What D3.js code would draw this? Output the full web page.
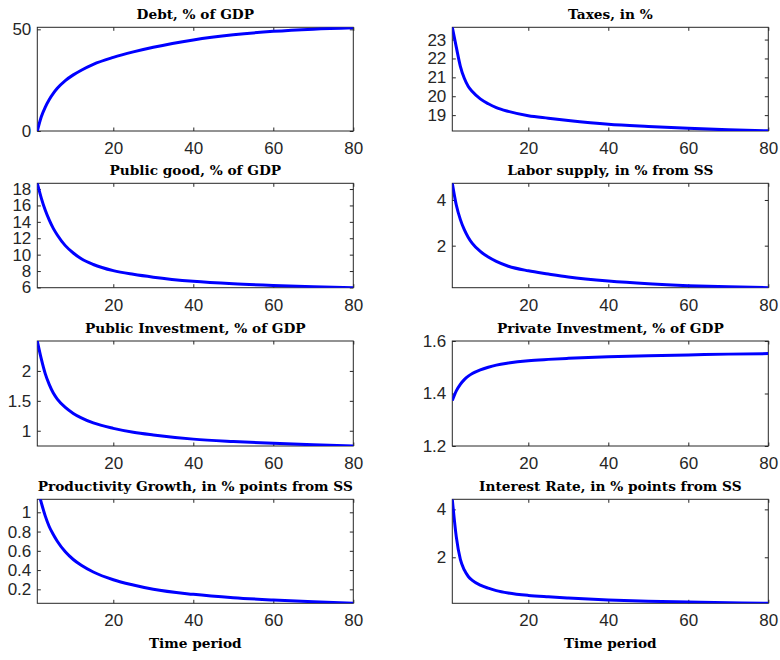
<!DOCTYPE html>
<html><head><meta charset="utf-8">
<script src="https://cdn.jsdelivr.net/npm/d3@7/dist/d3.min.js"></script>
<style>
body{margin:0;background:#fff;}
svg{display:block;}
.tick text{font-family:"Liberation Sans",Arial,Helvetica,sans-serif;font-size:17px;fill:#262626;}
.ttl{font-family:"DejaVu Serif","Liberation Serif",serif;font-weight:bold;font-size:13.7px;fill:#000;}
</style></head>
<body>
<script>
const periods = [1,2,3,4,5,6,8,10,12,15,20,25,30,40,50,60,70,80];

// Series values
const debt       = [0,7,11.8,15.5,18.5,21,24.8,27.6,29.9,32.8,36.2,38.9,41.2,44.8,47.3,49.0,50.1,50.8];
const taxes      = [23.65,22.6,21.6,20.95,20.52,20.25,19.86,19.6,19.4,19.2,18.97,18.84,18.72,18.52,18.4,18.3,18.22,18.17];
const publicGood = [18.7,16.9,15.4,14.2,13.2,12.4,11.1,10.2,9.5,8.8,8.05,7.6,7.25,6.75,6.45,6.25,6.1,5.97];
const labor      = [4.73,3.78,3.15,2.7,2.36,2.1,1.75,1.5,1.31,1.1,0.9,0.76,0.63,0.45,0.33,0.25,0.2,0.16];
const publicInv  = [2.5,2.2,1.95,1.77,1.63,1.53,1.39,1.29,1.215,1.13,1.04,0.975,0.93,0.86,0.82,0.79,0.765,0.745];
const privateInv = [1.373,1.41,1.435,1.453,1.466,1.476,1.49,1.5,1.508,1.516,1.525,1.53,1.534,1.54,1.544,1.547,1.55,1.552];
const prodGrowth = [1.25,1.1,0.96,0.85,0.77,0.7,0.59,0.51,0.45,0.38,0.3,0.245,0.2,0.148,0.113,0.089,0.07,0.055];
const interest   = [4.42,2.85,1.92,1.47,1.2,1.04,0.84,0.71,0.61,0.51,0.41,0.35,0.3,0.22,0.17,0.135,0.105,0.08];

// Titles
const titles = ["Debt, % of GDP","Taxes, in %","Public good, % of GDP","Labor supply, in % from SS",
  "Public Investment, % of GDP","Private Investment, % of GDP",
  "Productivity Growth, in % points from SS","Interest Rate, in % points from SS"];

// Axis limits and tick labels
const xDomain = [1,80];
const xTicks = [20,40,60,80];
const yDomains = [[0,51],[18.16,23.65],[5.97,18.7],[0.16,4.73],[0.745,2.5],[1.2,1.6],[0.055,1.135],[0.08,4.42]];
const yTicks = [[0,50],[19,20,21,22,23],[6,8,10,12,14,16,18],[2,4],[1,1.5,2],[1.2,1.4,1.6],[0.2,0.4,0.6,0.8,1],[2,4]];
const xLabel = "Time period";

const seriesList = [debt,taxes,publicGood,labor,publicInv,privateInv,prodGrowth,interest];

const W=780,H=660;
const colX = [[37.3,353.3],[452.3,768.3]];
const rowY = [[27.3,131],[183.3,287.7],[341,446],[499.3,603.3]];

const svg = d3.select("body").append("svg").attr("width",W).attr("height",H);

seriesList.forEach((vals,i)=>{
  const c=i%2, r=Math.floor(i/2);
  const [x0,x1]=colX[c], [y0,y1]=rowY[r];
  const x=d3.scaleLinear().domain(xDomain).range([x0,x1]);
  const y=d3.scaleLinear().domain(yDomains[i]).range([y1,y0]);
  const g=svg.append("g");

  g.append("clipPath").attr("id","clip"+i).append("rect")
    .attr("x",x0).attr("y",y0).attr("width",x1-x0).attr("height",y1-y0);

  const bx=g.append("g").attr("transform",`translate(0,${y1})`)
    .call(d3.axisBottom(x).tickValues(xTicks).tickSize(-3.5).tickPadding(11).tickFormat(d3.format("d")));
  const tx=g.append("g").attr("transform",`translate(0,${y0})`)
    .call(d3.axisTop(x).tickValues(xTicks).tickSize(-3.5).tickFormat(""));
  const ly=g.append("g").attr("transform",`translate(${x0},0)`)
    .call(d3.axisLeft(y).tickValues(yTicks[i]).tickSize(-3.5).tickPadding(6).tickFormat(d=>String(d)));
  const ry=g.append("g").attr("transform",`translate(${x1},0)`)
    .call(d3.axisRight(y).tickValues(yTicks[i]).tickSize(-3.5).tickFormat(""));
  [bx,tx,ly,ry].forEach(a=>{a.select(".domain").remove();a.selectAll(".tick line").attr("stroke","#262626");});

  g.append("rect").attr("x",x0).attr("y",y0).attr("width",x1-x0).attr("height",y1-y0)
    .attr("fill","none").attr("stroke","#262626").attr("stroke-width",1);

  const line=d3.line().x((d,k)=>x(periods[k])).y(d=>y(d)).curve(d3.curveMonotoneX);
  g.append("path").datum(vals).attr("d",line).attr("clip-path",`url(#clip${i})`)
    .attr("fill","none").attr("stroke","#0000ff").attr("stroke-width",3).attr("stroke-linejoin","round");

  g.append("text").attr("class","ttl").attr("x",(x0+x1)/2).attr("y",y0-8.5)
    .attr("text-anchor","middle").text(titles[i]);

  if(r===3){
    g.append("text").attr("class","ttl").attr("x",(x0+x1)/2).attr("y",647.5)
      .attr("text-anchor","middle").text(xLabel);
  }
});
</script>
</body></html>
